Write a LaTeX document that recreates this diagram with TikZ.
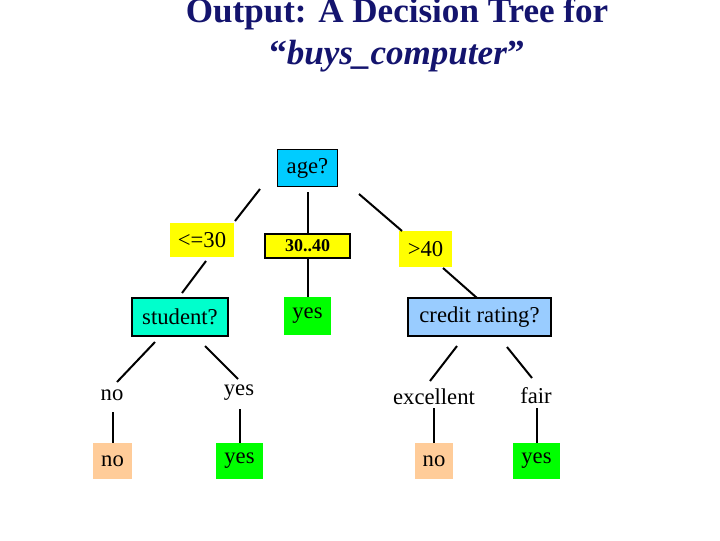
\documentclass[tikz,border=0pt]{standalone}
\usepackage{fontspec}
\setmainfont{Liberation Serif}
\definecolor{navy}{RGB}{20,20,110}
\definecolor{agec}{RGB}{0,204,255}
\definecolor{studc}{RGB}{0,255,204}
\definecolor{credc}{RGB}{153,204,255}
\definecolor{yel}{RGB}{255,255,0}
\definecolor{grn}{RGB}{0,255,0}
\definecolor{peach}{RGB}{255,204,153}
\begin{document}
\begin{tikzpicture}[x=0.75pt,y=-0.75pt,
  box/.style={inner sep=0pt,font=\fontsize{17}{19}\selectfont},
  conn/.style={line width=1.5pt}]
\useasboundingbox (0,0) rectangle (720,540);
\node[navy,font=\fontsize{26.3}{30}\selectfont\bfseries] (t1) at (397,14) {Output: A Decision Tree for};
\node[navy,font=\fontsize{26.3}{30}\selectfont\bfseries] (t2) at (397,56) {“\textit{buys\_computer}”};
% nodes
\node[box,draw,line width=1.2pt,fill=agec,minimum width=45pt,minimum height=28pt] (age) at (307.5,168) {age?};
\node[box,fill=yel,minimum width=48pt,minimum height=25.5pt] (le30) at (202,240) {<=30};
\node[box,draw,line width=1.2pt,fill=yel,minimum width=63.5pt,minimum height=18pt,font=\fontsize{13.5}{15}\selectfont\bfseries] (mid) at (307.5,246) {30..40};
\node[box,fill=yel,minimum width=40pt,minimum height=27pt] (gt40) at (425.5,249) {>40};
\node[box,draw,line width=1.2pt,fill=studc,minimum width=72pt,minimum height=28.5pt] (stud) at (180,317) {student?};
\node[box,fill=grn,minimum width=35pt,minimum height=28.5pt] (y1) at (307.5,316) {yes};
\node[box,draw,line width=1.2pt,fill=credc,minimum width=107.5pt,minimum height=28.5pt] (cred) at (479.5,317) {credit rating?};
\node[box] (lno) at (112,395) {no};
\node[box] (lyes) at (239,393) {yes};
\node[box] (lexc) at (434,397) {excellent};
\node[box] (lfair) at (536,396) {fair};
\node[box,fill=peach,minimum width=29pt,minimum height=27pt] (n1) at (112.5,461) {no};
\node[box,fill=grn,minimum width=35pt,minimum height=27pt] (y2) at (239.5,461) {yes};
\node[box,fill=peach,minimum width=28.5pt,minimum height=27pt] (n2) at (434,461) {no};
\node[box,fill=grn,minimum width=35pt,minimum height=27pt] (y3) at (536.5,461) {yes};
% connector ends
\coordinate (a1) at (260,189); \coordinate (a2) at (235,221);
\coordinate (b1) at (206,261); \coordinate (b2) at (182,293);
\coordinate (c1) at (359,194); \coordinate (c2) at (402,231);
\coordinate (d1) at (443,268); \coordinate (d2) at (477,298);
\coordinate (e1) at (155,342); \coordinate (e2) at (117,382);
\coordinate (f1) at (205,346); \coordinate (f2) at (238,379);
\coordinate (g1) at (457,346); \coordinate (g2) at (430,381);
\coordinate (h1) at (507,347); \coordinate (h2) at (532,378);
\coordinate (i1) at (112.5,412); \coordinate (j1) at (239.5,409);
\coordinate (k1) at (434,408); \coordinate (l1) at (536.5,408);
\coordinate (m1) at (307.5,192);
\draw[conn] (a1) -- (a2);
\draw[conn] (b1) -- (b2);
\draw[conn] (m1) -- (mid.north);
\draw[conn] (mid.south) -- (y1.north);
\draw[conn] (c1) -- (c2);
\draw[conn] (d1) -- (d2);
\draw[conn] (e1) -- (e2);
\draw[conn] (f1) -- (f2);
\draw[conn] (g1) -- (g2);
\draw[conn] (h1) -- (h2);
\draw[conn] (i1) -- (n1.north);
\draw[conn] (j1) -- (y2.north);
\draw[conn] (k1) -- (n2.north);
\draw[conn] (l1) -- (y3.north);
\end{tikzpicture}
\end{document}
